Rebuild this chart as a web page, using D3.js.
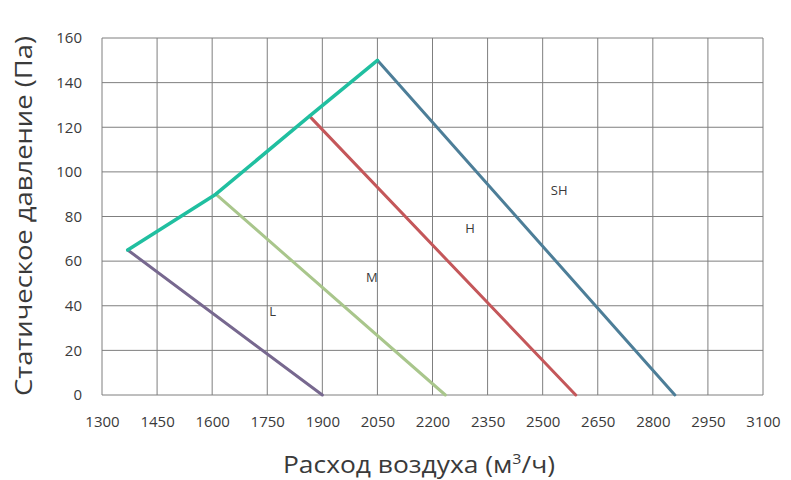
<!DOCTYPE html>
<html>
<head>
<meta charset="utf-8">
<script src="https://cdn.jsdelivr.net/npm/d3@7"></script>
<style>
  body { margin: 0; background: #fff; }
  text { font-family: "Open Sans", "DejaVu Sans", sans-serif; }
</style>
</head>
<body>
<svg width="791" height="480"></svg>
<script>
// tick values
var xTicks = [1300, 1450, 1600, 1750, 1900, 2050, 2200, 2350, 2500, 2650, 2800, 2950, 3100];
var yTicks = [0, 20, 40, 60, 80, 100, 120, 140, 160];

// fan curves: [airflow, pressure]
var curveL  = [[1370, 65], [1900, 0]];
var curveM  = [[1610, 90], [2235, 0]];
var curveH  = [[1865, 125], [2590, 0]];
var curveSH = [[2050, 150], [2860, 0]];
// upper envelope joining the start points
var envelope = [[1370, 65], [1610, 90], [1865, 125], [2050, 150]];

var labelNames = ["L", "M", "H", "SH"];
var labelX = [1765, 2035, 2302, 2545];
var labelY = [37, 52, 74, 91];

var svg = d3.select("svg"),
    margin = {top: 38, right: 28, bottom: 85, left: 102},
    width = +svg.attr("width") - margin.left - margin.right,
    height = +svg.attr("height") - margin.top - margin.bottom;

var xScale = d3.scaleLinear().domain([1300, 3100]).range([0, width]),
    yScale = d3.scaleLinear().domain([0, 160]).range([height, 0]);

var g = svg.append("g")
    .attr("transform", "translate(" + margin.left + "," + margin.top + ")");

// grid
g.selectAll(".vgrid").data(xTicks).enter().append("line")
    .attr("x1", function(d) { return xScale(d); })
    .attr("x2", function(d) { return xScale(d); })
    .attr("y1", 0).attr("y2", height)
    .attr("stroke", "#7f7f7f").attr("stroke-width", 1);

g.selectAll(".hgrid").data(yTicks).enter().append("line")
    .attr("y1", function(d) { return yScale(d); })
    .attr("y2", function(d) { return yScale(d); })
    .attr("x1", 0).attr("x2", width)
    .attr("stroke", "#7f7f7f").attr("stroke-width", 1);

// axes (labels only)
var xAxis = g.append("g")
    .attr("transform", "translate(0," + height + ")")
    .call(d3.axisBottom(xScale).tickValues(xTicks).tickFormat(d3.format("d")).tickSize(0).tickPadding(21));
var yAxis = g.append("g")
    .call(d3.axisLeft(yScale).tickValues(yTicks).tickFormat(d3.format("d")).tickSize(0).tickPadding(20));
[xAxis, yAxis].forEach(function(a) {
    a.select(".domain").remove();
    a.selectAll("text").attr("font-size", 15).attr("fill", "#3a3a3a")
        .style("font-family", "'Open Sans', 'DejaVu Sans', sans-serif");
});

var line = d3.line()
    .x(function(d) { return xScale(d[0]); })
    .y(function(d) { return yScale(d[1]); });

var curves = [
    {data: curveL,  color: "#77688f", w: 3},
    {data: curveM,  color: "#a9c68c", w: 3},
    {data: curveH,  color: "#c4575a", w: 3},
    {data: curveSH, color: "#4d7e98", w: 3},
    {data: envelope, color: "#20bfa0", w: 3.5}
];

g.selectAll(".curve").data(curves).enter().append("path")
    .attr("d", function(c) { return line(c.data); })
    .attr("fill", "none")
    .attr("stroke", function(c) { return c.color; })
    .attr("stroke-width", function(c) { return c.w; })
    .attr("stroke-linecap", "round")
    .attr("stroke-linejoin", "round");

g.selectAll(".lbl").data(labelNames).enter().append("text")
    .attr("x", function(d, i) { return xScale(labelX[i]); })
    .attr("y", function(d, i) { return yScale(labelY[i]); })
    .attr("text-anchor", "middle")
    .attr("dominant-baseline", "middle")
    .attr("font-size", 13)
    .attr("fill", "#3a3a3a")
    .text(function(d) { return d; });

// axis titles
svg.append("text")
    .attr("transform", "translate(26,216) rotate(-90)")
    .attr("text-anchor", "middle")
    .attr("dominant-baseline", "middle")
    .attr("font-size", 23)
    .attr("textLength", 360)
    .attr("lengthAdjust", "spacingAndGlyphs")
    .attr("fill", "#3a3a3a")
    .text("Статическое давление (Па)");

var xt = svg.append("text")
    .attr("x", 283)
    .attr("y", 473)
    .attr("font-size", 23)
    .attr("textLength", 272)
    .attr("lengthAdjust", "spacingAndGlyphs")
    .attr("fill", "#3a3a3a");
xt.append("tspan").text("Расход воздуха (м");
xt.append("tspan").attr("font-size", 14).attr("dy", -9).text("3");
xt.append("tspan").attr("dy", 9).text("/ч)");
</script>
</body>
</html>
